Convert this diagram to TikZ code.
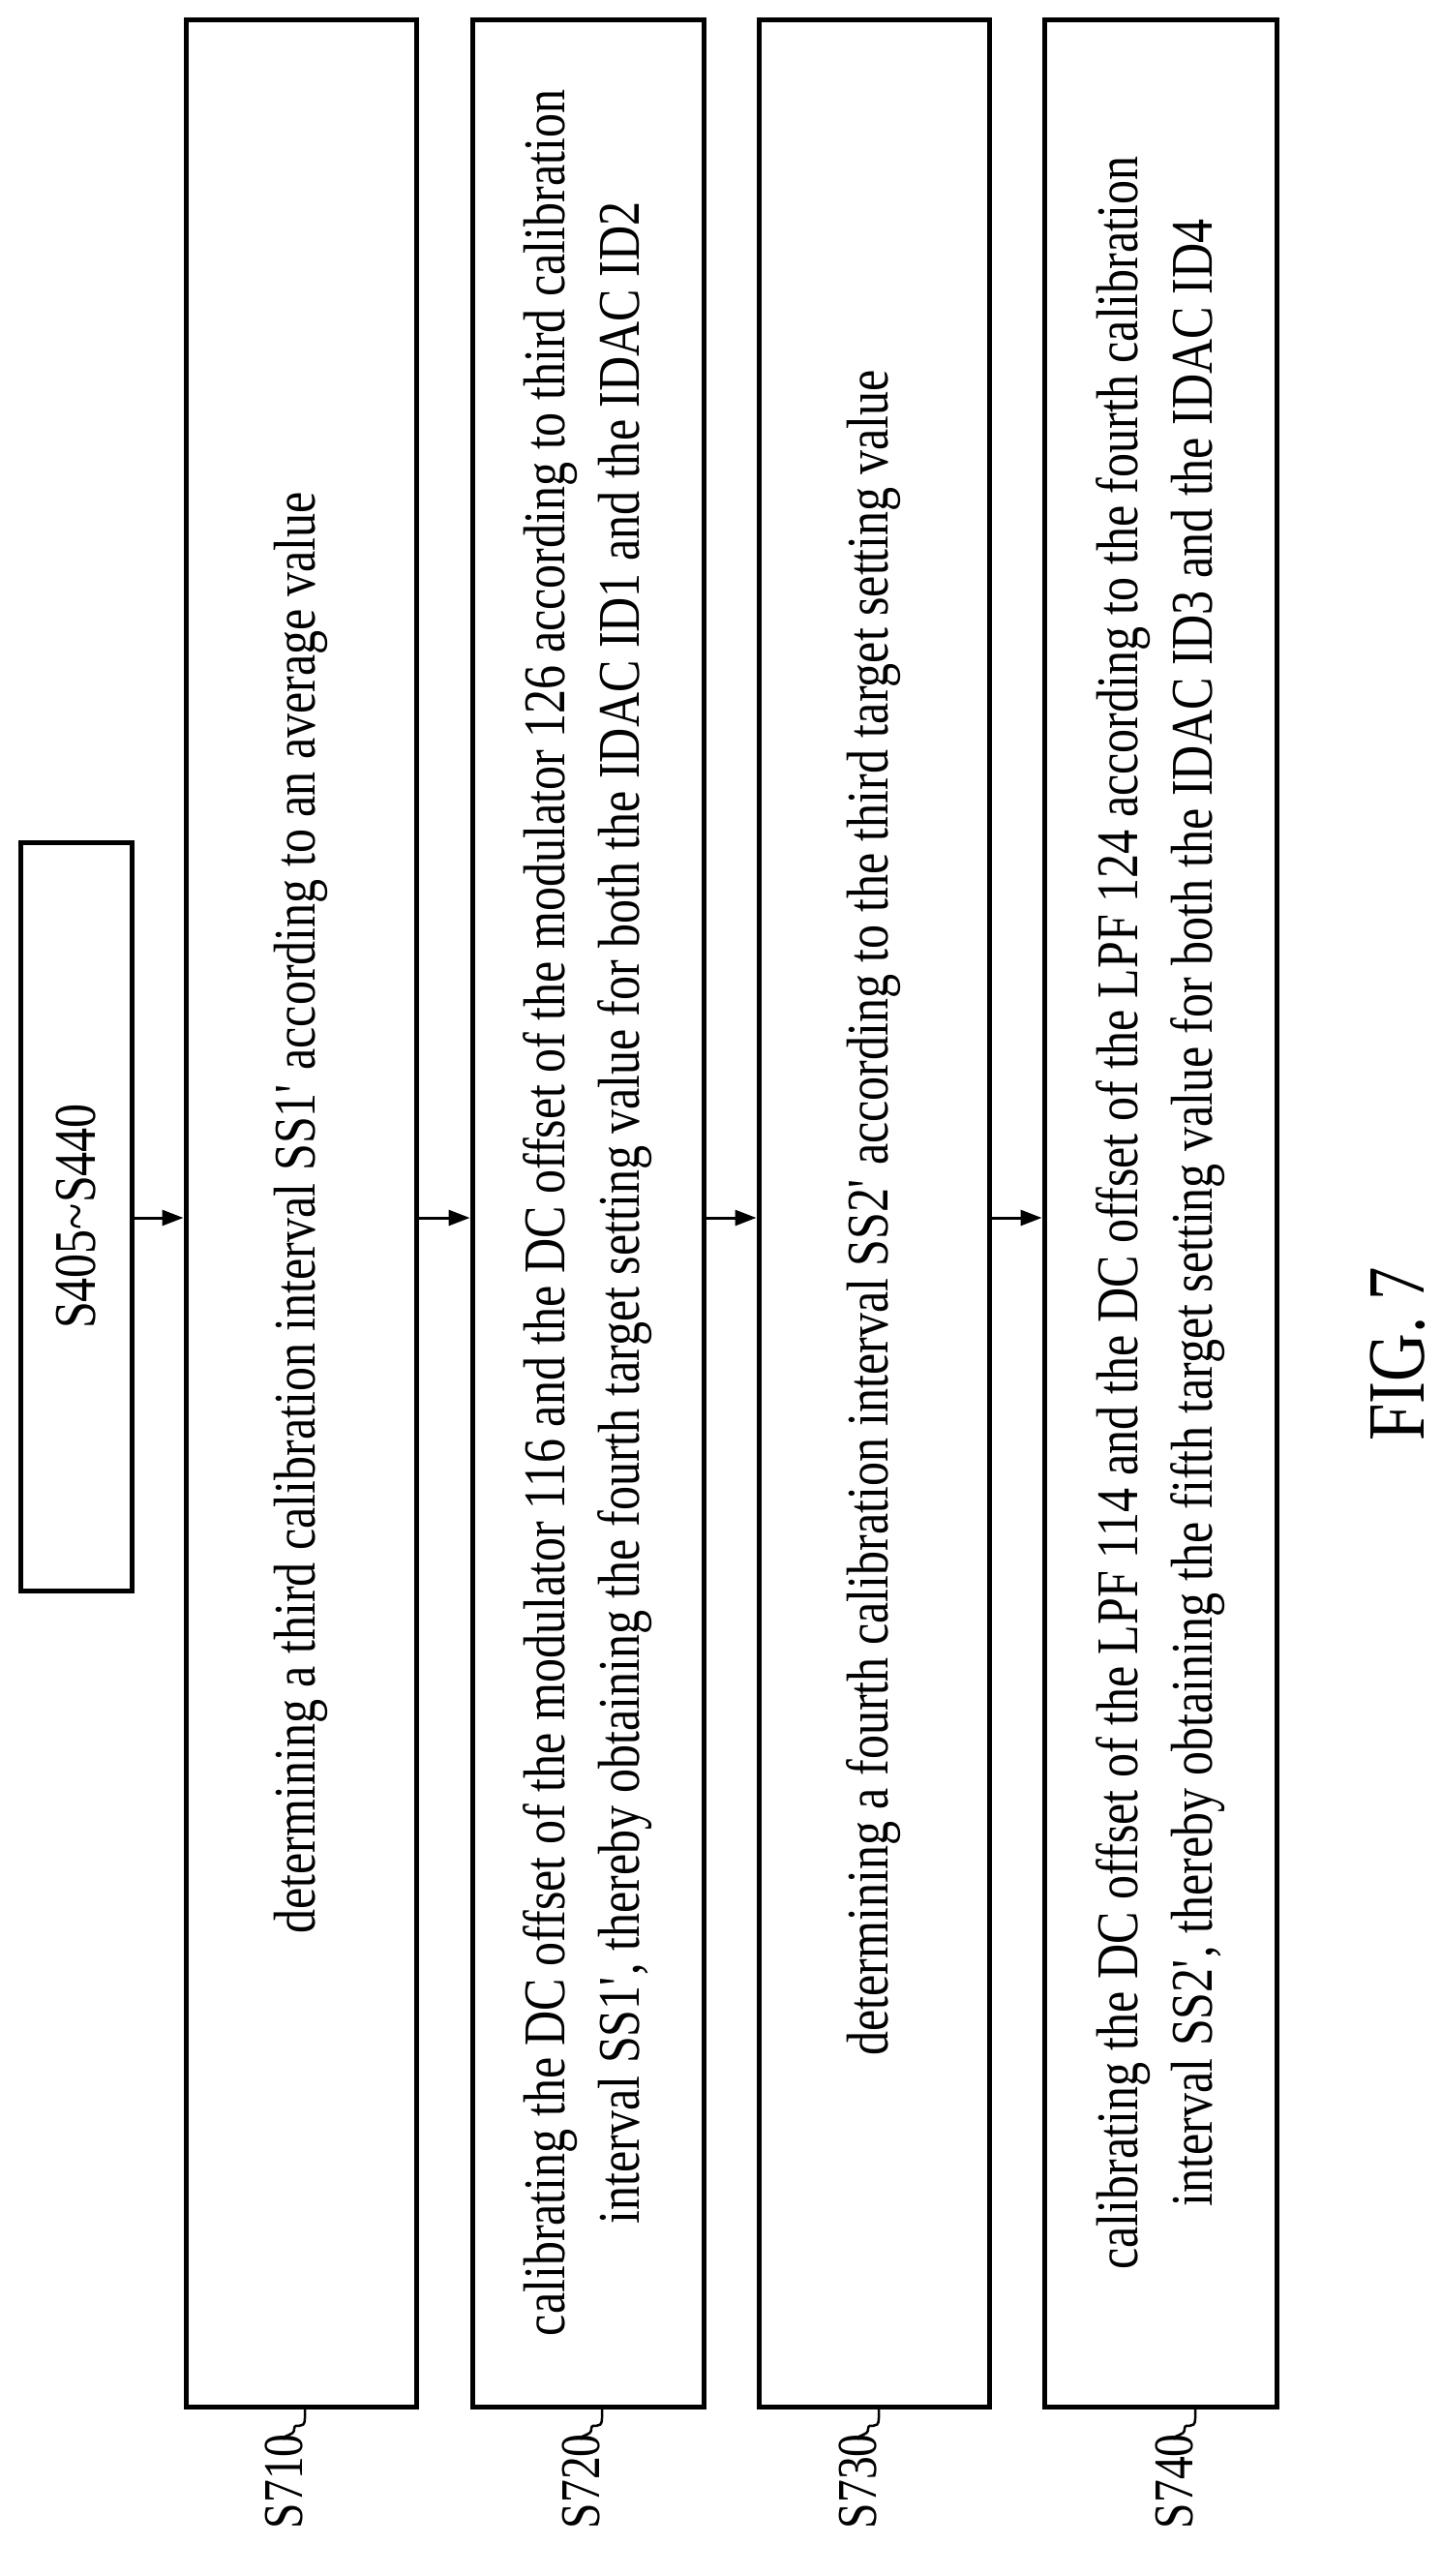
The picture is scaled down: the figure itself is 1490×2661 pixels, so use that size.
\documentclass[tikz,border=0pt]{standalone}
\usepackage{fontspec}
\setmainfont[FakeStretch=0.82]{Liberation Serif}
\usetikzlibrary{arrows.meta}
\newcommand{\ap}{\textquotesingle}
\begin{document}
\begin{tikzpicture}[x=1pt,y=-1pt,
  box/.style={draw,line width=5pt},
  txt/.style={rotate=90,align=center,font=\fontsize{61}{77}\selectfont,inner sep=0pt},
  lab/.style={rotate=90,anchor=east,font=\fontsize{58}{60}\selectfont,inner sep=0pt},
  arr/.style={line width=3pt,-{Triangle[length=22pt,width=16pt]}},
  sq/.style={line width=2.5pt}]
\useasboundingbox (0,0) rectangle (1490,2661);
\node[box,minimum width=115pt,minimum height=773pt,inner sep=0pt] (b0) at (78.5,1256.5) {};
\node[txt] (t0) at (b0) {S405\textasciitilde S440};
\foreach \n/\xa/\xb in {1/192/430,2/488/727,3/784/1022,4/1079/1319}{
  \node[box,minimum width=\xb-\xa,minimum height=2466pt,inner sep=0pt] (b\n) at ({(\xa+\xb)/2},1253) {};
}
\node[txt] (t1) at (b1) {determining a third calibration interval SS1\ap{} according to an average value};
\node[txt] (t2) at (b2) {calibrating the DC offset of the modulator 116 and the DC offset of the modulator 126 according to third calibration\\interval SS1\ap, thereby obtaining the fourth target setting value for both the IDAC ID1 and the IDAC ID2};
\node[txt] (t3) at (b3) {determining a fourth calibration interval SS2\ap{} according to the third target setting value};
\node[txt] (t4) at (b4) {calibrating the DC offset of the LPF 114 and the DC offset of the LPF 124 according to the fourth calibration\\interval SS2\ap, thereby obtaining the fifth target setting value for both the IDAC ID3 and the IDAC ID4};
\draw[arr] (b0.east|-0,1258) -- (b1.west|-0,1258);
\draw[arr] (b1.east|-0,1258) -- (b2.west|-0,1258);
\draw[arr] (b2.east|-0,1258) -- (b3.west|-0,1258);
\draw[arr] (b3.east|-0,1258) -- (b4.west|-0,1258);
\foreach \n/\s/\c in {1/S710/315,2/S720/622,3/S730/908,4/S740/1235}{
  \coordinate (top\n) at (\c,2488);
  \coordinate (end\n) at (\c-22,2520);
  \draw[sq] (top\n) -- ++(0,10) .. controls +(0,14) and +(0,-8) .. (\c-11,2509) .. controls +(0,8) and +(0,-6) .. (end\n);
  \node[lab] (l\n) at ([yshift=6pt]end\n) {\s};
}
\node[rotate=90,font=\fontsize{84}{90}\selectfont,inner sep=0pt] (fig) at (1444,1399) {FIG. 7};
\end{tikzpicture}
\end{document}
